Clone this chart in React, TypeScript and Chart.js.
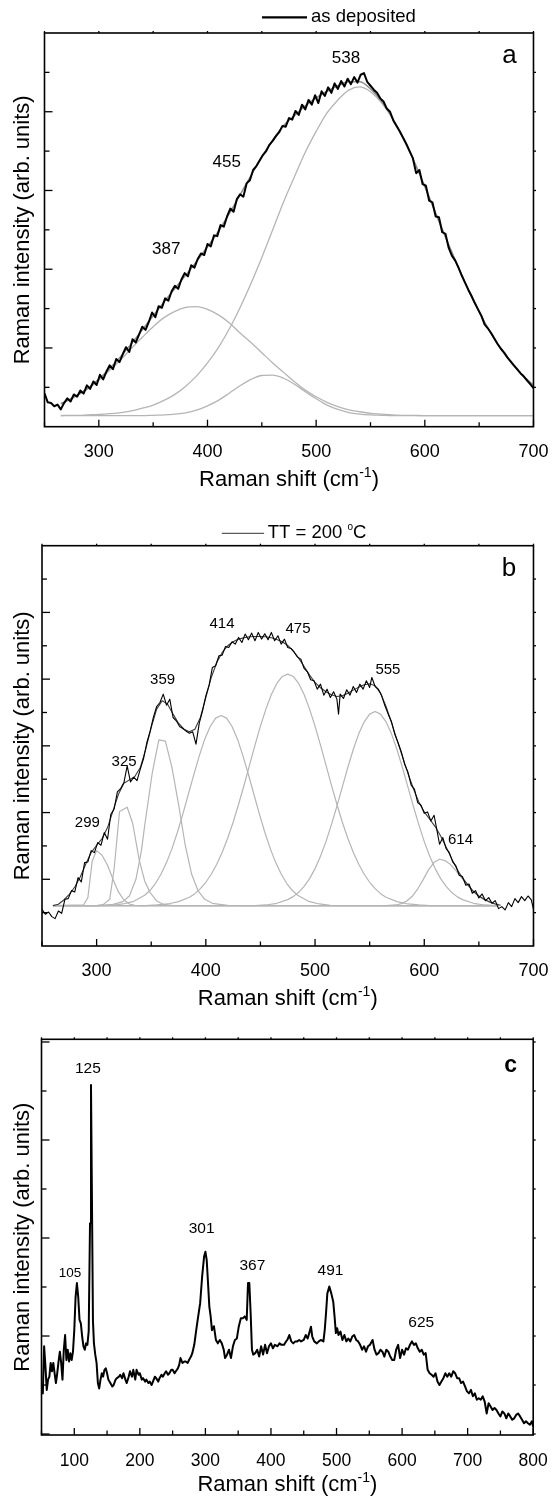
import React, { useEffect, useRef } from "react";
import { Chart, registerables } from "chart.js";

Chart.register(...registerables);

const FONT = '"Liberation Sans", Arial, Helvetica, sans-serif';
const CANVAS_W = 555;

// ---------------- Panel a : as deposited ----------------
const aShift = [
  250, 253, 256, 259, 262, 265, 268, 271, 274, 277,
  280, 283, 286, 289, 292, 295, 298, 301, 304, 307,
  310, 313, 316, 319, 322, 325, 328, 331, 334, 337,
  340, 343, 346, 349, 352, 355, 358, 361, 364, 367,
  370, 373, 376, 379, 382, 385, 388, 391, 394, 397,
  400, 403, 406, 409, 412, 415, 418, 421, 424, 427,
  430, 433, 436, 439, 442, 445, 448, 451, 454, 457,
  460, 463, 466, 469, 472, 475, 478, 481, 484, 487,
  490, 493, 496, 499, 502, 505, 508, 511, 514, 517,
  520, 523, 526, 529, 532, 535, 538, 541, 544, 547,
  550, 553, 556, 559, 562, 565, 568, 571, 574, 577,
  580, 583, 586, 589, 592, 595, 598, 601, 604, 607,
  610, 613, 616, 619, 622, 625, 628, 631, 634, 637,
  640, 643, 646, 649, 652, 655, 658, 661, 664, 667,
  670, 673, 676, 679, 682, 685, 688, 691, 694, 697,
  700,
];
const aIntensity = [
  0.85, 0.62, 0.60, 0.52, 0.56, 0.44, 0.60, 0.72, 0.64, 0.82,
  0.76, 0.92, 0.84, 1.05, 0.96, 1.15, 1.06, 1.32, 1.20, 1.40,
  1.56, 1.46, 1.72, 1.64, 1.84, 2.02, 1.90, 2.22, 2.14, 2.34,
  2.54, 2.46, 2.66, 2.90, 2.78, 3.06, 3.02, 3.26, 3.20, 3.44,
  3.58, 3.50, 3.74, 3.90, 3.82, 4.10, 4.04, 4.26, 4.40, 4.36,
  4.64, 4.58, 4.86, 4.84, 5.12, 5.08, 5.34, 5.54, 5.46, 5.78,
  5.90, 5.84, 6.18, 6.26, 6.52, 6.62, 6.76, 6.90, 7.00, 7.16,
  7.26, 7.38, 7.48, 7.64, 7.62, 7.84, 7.80, 8.02, 7.92, 8.18,
  8.06, 8.30, 8.18, 8.42, 8.22, 8.52, 8.40, 8.62, 8.48, 8.72,
  8.58, 8.78, 8.64, 8.84, 8.70, 8.88, 8.74, 8.94, 8.98, 8.76,
  8.66, 8.56, 8.48, 8.34, 8.26, 8.08, 8.00, 7.78, 7.64, 7.50,
  7.34, 7.18, 7.00, 6.82, 6.44, 6.52, 6.16, 6.12, 5.74, 5.70,
  5.34, 5.32, 4.94, 4.90, 4.54, 4.34, 4.22, 4.04, 3.84, 3.66,
  3.48, 3.32, 3.14, 2.98, 2.82, 2.60, 2.50, 2.38, 2.24, 2.10,
  1.98, 1.88, 1.76, 1.66, 1.56, 1.46, 1.36, 1.28, 1.18, 1.08,
  0.98,
];
const aFitShift = [
  265, 270, 280, 290, 300, 310, 320, 330, 340, 350,
  360, 370, 380, 390, 400, 410, 420, 430, 440, 450,
  460, 470, 480, 490, 500, 510, 520, 530, 540, 550,
  560, 570, 580, 590, 600, 610, 620, 630, 640, 650,
  660, 670, 680, 690, 700,
];
const aFit = [
  0.59, 0.65, 0.80, 0.98, 1.21, 1.48, 1.78, 2.11, 2.46, 2.82,
  3.17, 3.51, 3.85, 4.20, 4.57, 4.96, 5.41, 5.89, 6.38, 6.86,
  7.28, 7.65, 7.90, 8.15, 8.35, 8.52, 8.66, 8.76, 8.76, 8.58,
  8.27, 7.85, 7.34, 6.75, 6.10, 5.42, 4.75, 4.10, 3.48, 2.92,
  2.41, 1.98, 1.61, 1.30, 1.05,
];
const aPeak387 = [
  0.58, 0.64, 0.79, 0.96, 1.18, 1.43, 1.70, 1.99, 2.27, 2.54,
  2.77, 2.93, 3.03, 3.05, 2.98, 2.84, 2.64, 2.38, 2.14, 1.88,
  1.62, 1.38, 1.14, 0.93, 0.76, 0.62, 0.51, 0.43, 0.38, 0.34,
  0.32, 0.30, 0.29, 0.29, 0.28, 0.28, 0.28, 0.28, 0.28, 0.28,
  0.28, 0.28, 0.28, 0.28, 0.28,
];
const aPeak455 = [
  0.28, 0.28, 0.28, 0.28, 0.28, 0.28, 0.28, 0.28, 0.28, 0.29,
  0.30, 0.32, 0.35, 0.42, 0.53, 0.67, 0.85, 1.04, 1.20, 1.30,
  1.31, 1.23, 1.08, 0.89, 0.71, 0.55, 0.44, 0.36, 0.32, 0.30,
  0.29, 0.28, 0.28, 0.28, 0.28, 0.28, 0.28, 0.28, 0.28, 0.28,
  0.28, 0.28, 0.28, 0.28, 0.28,
];
const aPeak538 = [
  0.28, 0.29, 0.29, 0.30, 0.31, 0.33, 0.36, 0.40, 0.47, 0.55,
  0.67, 0.82, 1.03, 1.29, 1.62, 2.01, 2.48, 3.03, 3.64, 4.30,
  5.00, 5.71, 6.35, 6.97, 7.50, 7.97, 8.30, 8.55, 8.63, 8.51,
  8.23, 7.83, 7.33, 6.74, 6.10, 5.42, 4.75, 4.10, 3.48, 2.92,
  2.41, 1.98, 1.61, 1.30, 1.05,
];
const aTickLabels = [300, 400, 500, 600, 700];
const aTickMinor = [250, 350, 450, 550, 650];
const aYMajor = [2, 4, 6, 8];
const aYMinor = [1, 3, 5, 7, 9];
const aNoteText = ["387", "455", "538", "a"];
const aNoteShift = [362, 417.7, 527.5, 677.9];
const aNoteLevel = [4.39, 6.6, 9.25, 9.23];

// ---------------- Panel b : TT = 200 °C ----------------
const bShift = [
  250, 253, 256, 259, 262, 265, 268, 271, 274, 277,
  280, 283, 286, 289, 292, 295, 298, 301, 304, 307,
  310, 313, 316, 319, 322, 325, 328, 331, 334, 337,
  340, 343, 346, 349, 352, 355, 358, 361, 364, 367,
  370, 373, 376, 379, 382, 385, 388, 391, 394, 397,
  400, 403, 406, 409, 412, 415, 418, 421, 424, 427,
  430, 433, 436, 439, 442, 445, 448, 451, 454, 457,
  460, 463, 466, 469, 472, 475, 478, 481, 484, 487,
  490, 493, 496, 499, 502, 505, 508, 511, 514, 517,
  520, 521.5, 523, 526, 529, 532, 535, 538, 541, 544,
  547, 550, 552, 555, 558, 561, 564, 567, 570, 573,
  576, 579, 582, 585, 588, 591, 594, 597, 600, 603,
  606, 609, 612, 614, 617, 620, 623, 626, 629, 632,
  635, 638, 641, 644, 647, 650, 653, 656, 659, 662,
  665, 668, 671, 674, 677, 680, 683, 686, 689, 692,
  695, 698, 700,
];
const bIntensity = [
  1.10, 0.95, 1.02, 0.88, 0.82, 1.05, 0.98, 1.40, 1.42, 1.66,
  1.62, 2.05, 1.92, 2.50, 2.52, 2.86, 2.80, 3.10, 3.02, 3.40,
  3.20, 3.95, 4.10, 4.62, 4.72, 4.90, 5.40, 4.92, 5.06, 4.96,
  5.30, 5.62, 6.10, 6.44, 6.86, 7.18, 7.30, 7.55, 7.22, 7.40,
  6.85, 6.75, 6.58, 6.52, 6.44, 6.38, 6.42, 6.05, 6.68, 7.05,
  7.50, 7.82, 8.35, 8.40, 8.70, 8.72, 8.98, 8.95, 9.12, 9.05,
  9.25, 9.10, 9.35, 9.18, 9.38, 9.15, 9.40, 9.20, 9.36, 9.18,
  9.40, 9.15, 9.30, 9.05, 9.20, 8.95, 8.92, 8.80, 8.66, 8.60,
  8.32, 8.22, 7.98, 7.95, 7.70, 7.85, 7.52, 7.70, 7.45, 7.62,
  7.40, 6.95, 7.55, 7.42, 7.68, 7.52, 7.78, 7.60, 7.85, 7.70,
  7.95, 7.75, 8.05, 7.78, 7.70, 7.50, 7.20, 6.95, 6.72, 6.35,
  6.10, 5.82, 5.45, 5.22, 4.82, 4.70, 4.30, 4.22, 3.98, 4.02,
  3.75, 3.92, 3.40, 3.05, 3.25, 2.92, 2.80, 2.52, 2.40, 2.12,
  2.08, 1.82, 1.86, 1.58, 1.66, 1.44, 1.56, 1.36, 1.45, 1.28,
  1.36, 1.12, 1.18, 1.08, 1.30, 1.18, 1.42, 1.30, 1.48, 1.36,
  1.50, 1.38, 1.10,
];
const bFitShift = [
  260, 265, 270, 275, 280, 285, 290, 295, 300, 305,
  310, 315, 320, 325, 330, 335, 340, 345, 350, 355,
  360, 365, 370, 375, 380, 385, 390, 395, 400, 405,
  410, 415, 420, 425, 430, 435, 440, 445, 450, 455,
  460, 465, 470, 475, 480, 485, 490, 495, 500, 505,
  510, 515, 520, 525, 530, 535, 540, 545, 550, 555,
  560, 565, 570, 575, 580, 585, 590, 595, 600, 605,
  610, 615, 620, 625, 630, 635, 640, 645, 650, 655,
  660, 665, 670,
];
const bFit = [
  1.21, 1.25, 1.38, 1.55, 1.77, 2.07, 2.45, 2.80, 3.02, 3.22,
  3.55, 4.05, 4.55, 4.88, 4.98, 5.08, 5.35, 5.90, 6.55, 7.10,
  7.35, 7.25, 6.95, 6.68, 6.50, 6.42, 6.50, 6.85, 7.45, 8.05,
  8.50, 8.80, 9.00, 9.12, 9.20, 9.24, 9.27, 9.28, 9.28, 9.27,
  9.24, 9.19, 9.12, 9.01, 8.85, 8.63, 8.38, 8.12, 7.90, 7.74,
  7.62, 7.53, 7.48, 7.50, 7.58, 7.67, 7.76, 7.83, 7.86, 7.80,
  7.58, 7.18, 6.70, 6.18, 5.68, 5.18, 4.72, 4.32, 4.02, 3.80,
  3.58, 3.30, 2.97, 2.62, 2.30, 2.04, 1.83, 1.64, 1.50, 1.40,
  1.32, 1.26, 1.22,
];
const bPeak299Shift = [260, 288, 292, 296, 300, 305, 310, 315, 320, 325, 330, 335, 340, 668];
const bPeak299 = [1.21, 1.23, 1.45, 2.55, 2.86, 2.72, 2.42, 2.0, 1.62, 1.38, 1.26, 1.22, 1.21, 1.21];
const bPeak325Shift = [260, 300, 306, 312, 316, 321, 328, 333, 339, 344, 349, 355, 361, 370, 668];
const bPeak325 = [1.21, 1.21, 1.24, 1.4, 2.3, 4.03, 4.16, 3.68, 2.58, 1.95, 1.6, 1.35, 1.25, 1.21, 1.21];
const bPeak359Shift = [260, 300, 315, 324, 330, 336, 341, 344, 351, 357, 363, 369, 375, 381, 387, 393, 399, 406, 420, 440, 668];
const bPeak359 = [1.21, 1.21, 1.25, 1.33, 1.5, 2.0, 2.85, 3.6, 5.2, 6.18, 6.14, 5.35, 4.25, 3.05, 2.15, 1.65, 1.4, 1.28, 1.22, 1.21, 1.21];
const bPeak414Shift = [
  260, 304, 314, 324, 334, 344, 349, 354, 359, 364,
  369, 374, 379, 384, 389, 394, 399, 404, 409, 414,
  419, 424, 429, 434, 439, 444, 449, 454, 459, 464,
  469, 474, 479, 484, 494, 504, 514, 524, 668,
];
const bPeak414 = [
  1.21, 1.21, 1.22, 1.26, 1.34, 1.52, 1.67, 1.88, 2.16, 2.50,
  2.92, 3.41, 3.96, 4.55, 5.14, 5.70, 6.20, 6.58, 6.83, 6.91,
  6.83, 6.58, 6.20, 5.70, 5.14, 4.55, 3.96, 3.41, 2.92, 2.50,
  2.16, 1.88, 1.67, 1.52, 1.34, 1.26, 1.22, 1.21, 1.21,
];
const bPeak475Shift = [
  260, 345, 355, 365, 375, 385, 390, 395, 400, 405,
  410, 415, 420, 425, 430, 435, 440, 445, 450, 455,
  460, 465, 470, 475, 480, 485, 490, 495, 500, 505,
  510, 515, 520, 525, 530, 535, 540, 545, 550, 555,
  560, 565, 575, 585, 595, 605, 668,
];
const bPeak475 = [
  1.21, 1.21, 1.23, 1.26, 1.33, 1.46, 1.57, 1.72, 1.91, 2.15,
  2.45, 2.81, 3.23, 3.71, 4.25, 4.82, 5.42, 6.02, 6.59, 7.10,
  7.54, 7.87, 8.08, 8.15, 8.08, 7.87, 7.54, 7.10, 6.59, 6.02,
  5.42, 4.82, 4.25, 3.71, 3.23, 2.81, 2.45, 2.15, 1.91, 1.72,
  1.57, 1.46, 1.33, 1.26, 1.23, 1.21, 1.21,
];
const bPeak555Shift = [
  260, 445, 455, 465, 475, 480, 485, 490, 495, 500,
  505, 510, 515, 520, 525, 530, 535, 540, 545, 550,
  555, 560, 565, 570, 575, 580, 585, 590, 595, 600,
  605, 610, 615, 620, 625, 630, 635, 645, 655, 665,
  668,
];
const bPeak555 = [
  1.21, 1.21, 1.23, 1.28, 1.39, 1.48, 1.61, 1.79, 2.02, 2.32,
  2.69, 3.13, 3.64, 4.19, 4.77, 5.35, 5.89, 6.36, 6.72, 6.95,
  7.03, 6.95, 6.72, 6.36, 5.89, 5.35, 4.77, 4.19, 3.64, 3.13,
  2.69, 2.32, 2.02, 1.79, 1.61, 1.48, 1.39, 1.28, 1.23, 1.21,
  1.21,
];
const bPeak614Shift = [260, 565, 574, 579, 584, 589, 594, 599, 604, 609, 614, 619, 624, 629, 634, 639, 644, 649, 654, 659, 664, 668];
const bPeak614 = [1.21, 1.21, 1.23, 1.27, 1.35, 1.49, 1.71, 1.99, 2.29, 2.51, 2.6, 2.56, 2.44, 2.26, 2.05, 1.85, 1.66, 1.51, 1.4, 1.32, 1.27, 1.25];
const bTickLabels = [300, 400, 500, 600, 700];
const bTickMinor = [250, 350, 450, 550, 650];
const bYMajor = [2, 4, 6, 8, 10];
const bYMinor = [1, 3, 5, 7, 9, 11];
const bNoteText = ["299", "325", "359", "414", "475", "555", "614", "b"];
const bNoteShift = [291.5, 325.2, 360.4, 414.8, 484.4, 566.7, 633.2, 677.6];
const bNoteLevel = [3.58, 5.4, 7.85, 9.53, 9.38, 8.16, 3.06, 11.08];

// ---------------- Panel c ----------------
const cShift = [
  50, 52, 54, 56, 58, 60, 62, 64, 66, 68,
  70, 72, 74, 76, 78, 80, 82, 84, 86, 88,
  90, 92, 94, 96, 98, 100, 102, 104, 106, 108,
  110, 112, 114, 116, 118, 120, 122, 124, 125.5, 127,
  128.5, 130, 132, 134, 136, 138, 140, 142, 144, 146,
  148, 150, 152, 155, 158, 160, 163, 165, 168, 170,
  173, 175, 178, 180, 183, 185, 188, 190, 193, 195,
  198, 200, 203, 205, 208, 210, 213, 215, 218, 220,
  223, 225, 228, 230, 233, 235, 238, 240, 243, 245,
  248, 250, 253, 255, 258, 260, 262, 265, 268, 270,
  273, 275, 278, 280, 283, 286, 289, 292, 295, 298,
  300, 302, 304, 306, 308, 310, 313, 316, 319, 322,
  325, 328, 330, 333, 336, 339, 342, 345, 348, 351,
  354, 357, 360, 363, 365, 367, 369, 371, 373, 376,
  379, 382, 385, 388, 391, 394, 397, 400, 403, 406,
  410, 413, 416, 420, 423, 425, 428, 431, 434, 437,
  440, 443, 446, 450, 453, 456, 459, 461, 463, 466,
  470, 473, 476, 480, 482, 484, 486, 489, 492, 495,
  497, 499, 501, 503, 506, 509, 512, 515, 518, 521,
  524, 527, 530, 533, 536, 539, 542, 545, 548, 551,
  555, 558, 561, 564, 567, 570, 573, 576, 579, 582,
  585, 588, 591, 594, 597, 600, 603, 606, 609, 612,
  615, 618, 621, 624, 627, 630, 633, 636, 639, 642,
  645, 648, 651, 654, 657, 660, 663, 666, 669, 672,
  675, 678, 681, 684, 687, 690, 693, 696, 699, 702,
  705, 708, 711, 714, 717, 720, 723, 726, 729, 732,
  735, 738, 741, 744, 747, 750, 753, 756, 759, 762,
  765, 768, 771, 774, 777, 780, 783, 786, 789, 792,
  795, 798, 800,
];
const cIntensity = [
  0.87, 0.83, 1.79, 1.38, 0.90, 1.11, 1.17, 1.45, 1.28, 1.45,
  1.24, 1.04, 1.24, 1.48, 1.68, 1.45, 1.11, 1.72, 2.02, 1.51,
  1.72, 1.48, 1.65, 1.51, 1.68, 2.12, 2.80, 3.08, 2.80, 2.33,
  2.26, 1.99, 1.79, 1.72, 1.85, 1.82, 2.10, 4.30, 7.12, 4.70,
  2.30, 1.85, 1.62, 1.45, 1.04, 0.93, 1.11, 1.24, 1.17, 1.31,
  1.34, 1.24, 1.11, 1.04, 0.97, 1.00, 1.11, 1.14, 1.17, 1.21,
  1.14, 1.24, 1.11, 1.04, 1.17, 1.28, 1.17, 1.31, 1.11, 1.31,
  1.21, 1.24, 1.11, 1.14, 1.07, 1.11, 1.04, 1.07, 1.00, 1.07,
  1.17, 1.14, 1.07, 1.14, 1.21, 1.17, 1.24, 1.28, 1.21, 1.24,
  1.31, 1.31, 1.24, 1.28, 1.34, 1.41, 1.55, 1.45, 1.48, 1.48,
  1.45, 1.51, 1.58, 1.65, 1.82, 2.12, 2.40, 2.67, 3.21, 3.62,
  3.72, 3.55, 3.08, 2.60, 2.40, 2.12, 2.20, 1.92, 1.85, 1.92,
  1.85, 1.72, 1.55, 1.62, 1.72, 1.55, 1.79, 1.92, 1.95, 2.20,
  2.36, 2.36, 2.40, 2.33, 3.08, 3.08, 2.47, 1.72, 1.62, 1.65,
  1.72, 1.58, 1.79, 1.62, 1.82, 1.65, 1.79, 1.85, 1.75, 1.82,
  1.79, 1.85, 1.82, 1.82, 1.89, 1.92, 2.02, 1.89, 1.85, 1.89,
  1.89, 1.92, 1.89, 1.92, 2.02, 1.95, 2.09, 2.19, 1.99, 1.89,
  1.85, 1.89, 1.92, 1.89, 2.12, 2.47, 2.87, 3.01, 2.87, 2.70,
  2.40, 2.06, 2.16, 2.02, 2.09, 1.92, 2.02, 1.89, 1.95, 1.89,
  1.99, 2.02, 1.92, 1.89, 1.82, 1.72, 1.79, 1.68, 1.79, 1.82,
  1.92, 1.72, 1.62, 1.65, 1.72, 1.68, 1.58, 1.72, 1.68, 1.58,
  1.51, 1.51, 1.72, 1.82, 1.55, 1.72, 1.62, 1.75, 1.72, 1.82,
  1.89, 1.82, 1.85, 1.75, 1.68, 1.72, 1.62, 1.65, 1.31, 1.24,
  1.21, 1.17, 1.24, 1.07, 1.00, 1.07, 1.14, 1.24, 1.17, 1.24,
  1.17, 1.28, 1.24, 1.14, 1.14, 1.04, 1.07, 0.97, 0.87, 0.83,
  0.90, 0.77, 0.83, 0.70, 0.73, 0.70, 0.77, 0.66, 0.42, 0.63,
  0.56, 0.49, 0.53, 0.49, 0.42, 0.36, 0.46, 0.42, 0.32, 0.42,
  0.36, 0.29, 0.32, 0.39, 0.42, 0.36, 0.29, 0.22, 0.26, 0.22,
  0.19, 0.26, 0.15,
];
const cTickLabels = [100, 200, 300, 400, 500, 600, 700, 800];
const cTickMinor = [50, 150, 250, 350, 450, 550, 650, 750];
const cYMajor = [0, 2, 4, 6, 8];
const cYMinor = [1, 3, 5, 7];
const cNoteText = ["105", "125", "301", "367", "491", "625", "c"];
const cNoteShift = [93.5, 120.8, 294.2, 371.7, 490.9, 629.3, 765.6];
const cNoteLevel = [3.21, 7.36, 4.1, 3.35, 3.24, 2.19, 7.39];
const cNoteSize = [13.5, 15.5, 15.5, 15.5, 15.5, 15.5, 23];

// ---------------- rendering ----------------
type Series = { xs: number[]; ys: number[]; color: string; width: number; label?: string; smooth?: boolean };
type Note = { text: string; x: number; y: number; size: number; bold?: boolean };
type Legend = { label: string; color: string; width: number; lineFrom: number; lineTo: number; y: number; textX: number; size: number };
type PanelSpec = {
  top: number;
  height: number;
  padTop: number;
  padRight: number;
  yAxisWidth: number;
  xAxisHeight: number;
  xMin: number;
  xMax: number;
  yMin: number;
  yMax: number;
  xLabels: number[];
  xMinor: number[];
  yMajor: number[];
  yMinor: number[];
  tickFont: number;
  tickPad: number;
  titleBaseline: number;
  series: Series[];
  notes: Note[];
  legend?: Legend;
};

const pts = (xs: number[], ys: number[]) => xs.map((x, i) => ({ x, y: ys[i] }));
const notesFrom = (t: string[], xs: number[], ys: number[], size: (i: number) => number, boldLast = false): Note[] =>
  t.map((text, i) => ({ text, x: xs[i], y: ys[i], size: size(i), bold: boldLast && i === t.length - 1 }));

const GREY = "#b5b5b5";

const panels: PanelSpec[] = [
  {
    top: 0,
    height: 500,
    padTop: 33,
    padRight: 17.3,
    yAxisWidth: 44.5,
    xAxisHeight: 73.3,
    xMin: 250,
    xMax: 700,
    yMin: 0,
    yMax: 10,
    xLabels: aTickLabels,
    xMinor: aTickMinor,
    yMajor: aYMajor,
    yMinor: aYMinor,
    tickFont: 18,
    tickPad: 6.5,
    titleBaseline: 59,
    series: [
      { xs: aShift, ys: aIntensity, color: "#000", width: 2, label: "as deposited" },
      { xs: aFitShift, ys: aFit, color: "#8e8e8e", width: 1.5, smooth: true },
      { xs: aFitShift, ys: aPeak387, color: GREY, width: 1.3, smooth: true },
      { xs: aFitShift, ys: aPeak455, color: GREY, width: 1.3, smooth: true },
      { xs: aFitShift, ys: aPeak538, color: GREY, width: 1.3, smooth: true },
    ],
    notes: notesFrom(aNoteText, aNoteShift, aNoteLevel, (i) => (i === 3 ? 26 : 17)),
    legend: { label: "as deposited", color: "#000", width: 2.2, lineFrom: 217.5, lineTo: 262.5, y: 17.3, textX: 266.5, size: 18.5 },
  },
  {
    top: 500,
    height: 520,
    padTop: 45.7,
    padRight: 16.5,
    yAxisWidth: 42,
    xAxisHeight: 74,
    xMin: 250,
    xMax: 700,
    yMin: 0,
    yMax: 12,
    xLabels: bTickLabels,
    xMinor: bTickMinor,
    yMajor: bYMajor,
    yMinor: bYMinor,
    tickFont: 18,
    tickPad: 6.5,
    titleBaseline: 59,
    series: [
      { xs: bShift, ys: bIntensity, color: "#000", width: 1.1, label: "TT = 200 °C" },
      { xs: bFitShift, ys: bFit, color: "#3a3a3a", width: 1.1 },
      { xs: bPeak299Shift, ys: bPeak299, color: GREY, width: 1.2 },
      { xs: bPeak325Shift, ys: bPeak325, color: GREY, width: 1.2 },
      { xs: bPeak359Shift, ys: bPeak359, color: GREY, width: 1.2 },
      { xs: bPeak414Shift, ys: bPeak414, color: GREY, width: 1.2 },
      { xs: bPeak475Shift, ys: bPeak475, color: GREY, width: 1.2 },
      { xs: bPeak555Shift, ys: bPeak555, color: GREY, width: 1.2 },
      { xs: bPeak614Shift, ys: bPeak614, color: GREY, width: 1.2 },
    ],
    notes: notesFrom(bNoteText, bNoteShift, bNoteLevel, (i) => (i === 7 ? 26 : 15)),
    legend: { label: "TT = 200 °C", color: "#333", width: 1, lineFrom: 179.8, lineTo: 222.1, y: 33.3, textX: 225.7, size: 18.5 },
  },
  {
    top: 1020,
    height: 476,
    padTop: 19.3,
    padRight: 18.3,
    yAxisWidth: 41.5,
    xAxisHeight: 61,
    xMin: 50,
    xMax: 800,
    yMin: -0.02,
    yMax: 8.055,
    xLabels: cTickLabels,
    xMinor: cTickMinor,
    yMajor: cYMajor,
    yMinor: cYMinor,
    tickFont: 17.5,
    tickPad: 7.2,
    titleBaseline: 56,
    series: [{ xs: cShift, ys: cIntensity, color: "#000", width: 2 }],
    notes: notesFrom(cNoteText, cNoteShift, cNoteLevel, (i) => cNoteSize[i], true),
  },
];

function drawDecor(chart: any, spec: PanelSpec) {
  const { ctx, chartArea: ca, scales } = chart;
  const xs = scales.x;
  const ys = scales.y;
  ctx.save();
  ctx.strokeStyle = "#000";
  ctx.lineCap = "butt";
  ctx.lineWidth = 1.3;
  const seg = (x1: number, y1: number, x2: number, y2: number) => {
    ctx.beginPath();
    ctx.moveTo(x1, y1);
    ctx.lineTo(x2, y2);
    ctx.stroke();
  };
  spec.xLabels.forEach((v) => {
    const p = xs.getPixelForValue(v);
    seg(p, ca.bottom, p, ca.bottom - 7);
    seg(p, ca.top, p, ca.top - 2);
  });
  spec.xMinor.forEach((v) => {
    const p = xs.getPixelForValue(v);
    seg(p, ca.bottom, p, ca.bottom - 4.5);
    seg(p, ca.top, p, ca.top - 2);
  });
  spec.yMajor.forEach((v) => {
    const p = ys.getPixelForValue(v);
    seg(ca.left, p, ca.left + 8, p);
    seg(ca.right, p, ca.right + 2.5, p);
  });
  spec.yMinor.forEach((v) => {
    const p = ys.getPixelForValue(v);
    seg(ca.left, p, ca.left + 5, p);
    seg(ca.right, p, ca.right + 2.5, p);
  });
  ctx.lineWidth = 1.6;
  ctx.strokeRect(ca.left, ca.top, ca.right - ca.left, ca.bottom - ca.top);

  // peak labels and panel letter
  ctx.fillStyle = "#000";
  ctx.textAlign = "center";
  ctx.textBaseline = "alphabetic";
  spec.notes.forEach((n) => {
    ctx.font = `${n.bold ? "bold " : ""}${n.size}px ${FONT}`;
    ctx.fillText(n.text, xs.getPixelForValue(n.x), ys.getPixelForValue(n.y));
  });

  // x axis title with superscript
  const main = "Raman shift (cm";
  const sup = "-1";
  const close = ")";
  ctx.font = `22px ${FONT}`;
  const w1 = ctx.measureText(main).width;
  const w3 = ctx.measureText(close).width;
  ctx.font = `14px ${FONT}`;
  const w2 = ctx.measureText(sup).width;
  const cx = (ca.left + ca.right) / 2;
  const base = ca.bottom + spec.titleBaseline;
  const sx = cx - (w1 + w2 + w3) / 2;
  ctx.textAlign = "left";
  ctx.font = `22px ${FONT}`;
  ctx.fillText(main, sx, base);
  ctx.font = `14px ${FONT}`;
  ctx.fillText(sup, sx + w1, base - 9);
  ctx.font = `22px ${FONT}`;
  ctx.fillText(close, sx + w1 + w2, base);

  // legend
  const lg = spec.legend;
  if (lg) {
    ctx.strokeStyle = lg.color;
    ctx.lineWidth = lg.width;
    seg(ca.left + lg.lineFrom, lg.y, ca.left + lg.lineTo, lg.y);
    ctx.textBaseline = "middle";
    ctx.fillStyle = "#000";
    const parts = lg.label.split("°");
    let tx = ca.left + lg.textX;
    ctx.font = `${lg.size}px ${FONT}`;
    ctx.fillText(parts[0], tx, lg.y);
    tx += ctx.measureText(parts[0]).width;
    if (parts.length > 1) {
      ctx.font = `${Math.round(lg.size * 0.55)}px ${FONT}`;
      ctx.fillText("o", tx, lg.y - 6);
      tx += ctx.measureText("o").width;
      ctx.font = `${lg.size}px ${FONT}`;
      ctx.fillText(parts[1], tx, lg.y);
    }
  }
  ctx.restore();
}

function Panel({ spec }: { spec: PanelSpec }) {
  const ref = useRef<HTMLCanvasElement | null>(null);
  useEffect(() => {
    if (!ref.current) return;
    const decor = {
      id: "decor",
      afterDatasetsDraw(chart: any) {
        drawDecor(chart, spec);
      },
    };
    const chart = new Chart(ref.current, {
      type: "line",
      data: {
        datasets: spec.series.map((s) => ({
          label: s.label || "",
          data: pts(s.xs, s.ys),
          borderColor: s.color,
          backgroundColor: s.color,
          borderWidth: s.width,
          pointRadius: 0,
          fill: false,
          tension: 0,
          cubicInterpolationMode: s.smooth ? "monotone" : "default",
          borderJoinStyle: "round",
        })),
      },
      options: {
        responsive: false,
        animation: false,
        events: [],
        layout: { padding: { top: spec.padTop, right: spec.padRight, bottom: 0, left: 0 } },
        plugins: { legend: { display: false }, tooltip: { enabled: false }, title: { display: false } },
        scales: {
          x: {
            type: "linear",
            min: spec.xMin,
            max: spec.xMax,
            grid: { display: false },
            border: { display: false },
            afterBuildTicks: (s: any) => {
              s.ticks = spec.xLabels.map((v) => ({ value: v }));
            },
            afterFit: (s: any) => {
              s.height = spec.xAxisHeight;
            },
            ticks: {
              autoSkip: false,
              maxRotation: 0,
              padding: spec.tickPad,
              color: "#000",
              font: { family: FONT, size: spec.tickFont },
              callback: (v: any) => String(v),
            },
          },
          y: {
            type: "linear",
            min: spec.yMin,
            max: spec.yMax,
            grid: { display: false },
            border: { display: false },
            ticks: { display: false },
            afterFit: (s: any) => {
              s.width = spec.yAxisWidth;
            },
            title: {
              display: true,
              text: "Raman intensity (arb. units)",
              color: "#000",
              font: { family: FONT, size: 22 },
              padding: { top: 9.3, bottom: 0 },
            },
          },
        },
      },
      plugins: [decor],
    } as any);
    return () => chart.destroy();
  }, [spec]);
  return (
    <canvas
      ref={ref}
      width={CANVAS_W}
      height={spec.height}
      style={{ position: "absolute", left: 0, top: spec.top, width: CANVAS_W, height: spec.height }}
    />
  );
}

export default function App() {
  return (
    <div style={{ position: "absolute", left: 0, top: 0, width: CANVAS_W, height: 1496, background: "#fff" }}>
      {panels.map((p, i) => (
        <Panel key={i} spec={p} />
      ))}
    </div>
  );
}
